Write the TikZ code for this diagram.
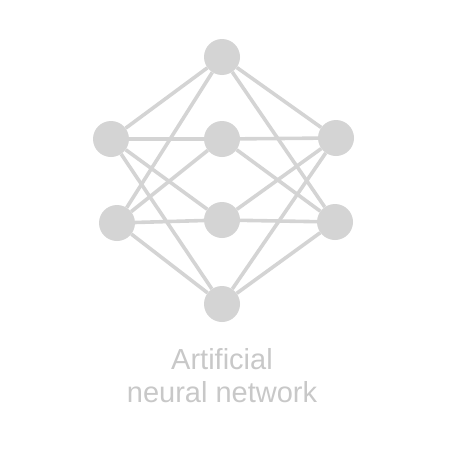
\documentclass[tikz,border=0pt]{standalone}
\usepackage{fontspec}
\setmainfont{Liberation Sans}
\usetikzlibrary{positioning}
\definecolor{nodegray}{HTML}{D4D4D4}
\definecolor{textgray}{HTML}{C8C8C8}

\begin{document}
\begin{tikzpicture}[
    x=1pt, y=-1pt,
    neuron/.style={circle, fill=nodegray, minimum size=36pt, inner sep=0pt},
    link/.style={draw=nodegray, line width=3.6pt},
    caption/.style={text=textgray, font=\fontsize{29}{33}\selectfont, align=center}
]
\useasboundingbox (0,0) rectangle (450,450);
\node[neuron] (top) at (222,57) {};
\node[neuron] (lu) at (111,139) {};
\node[neuron] (cu) at (222,139) {};
\node[neuron] (ru) at (336,138) {};
\node[neuron] (ll) at (117,223) {};
\node[neuron] (cl) at (222,220) {};
\node[neuron] (rl) at (335,222) {};
\node[neuron] (bot) at (222,304) {};
\node[caption] (label) at (222,376) {Artificial\\neural network};

\draw[link] (top) -- (lu);
\draw[link] (top) -- (ll);
\draw[link] (top) -- (ru);
\draw[link] (top) -- (rl);
\draw[link] (lu) -- (cu);
\draw[link] (cu) -- (ru);
\draw[link] (lu) -- (cl);
\draw[link] (lu) -- (bot);
\draw[link] (cu) -- (ll);
\draw[link] (cu) -- (rl);
\draw[link] (ru) -- (cl);
\draw[link] (ru) -- (bot);
\draw[link] (ll) -- (cl);
\draw[link] (cl) -- (rl);
\draw[link] (ll) -- (bot);
\draw[link] (rl) -- (bot);
\end{tikzpicture}
\end{document}
